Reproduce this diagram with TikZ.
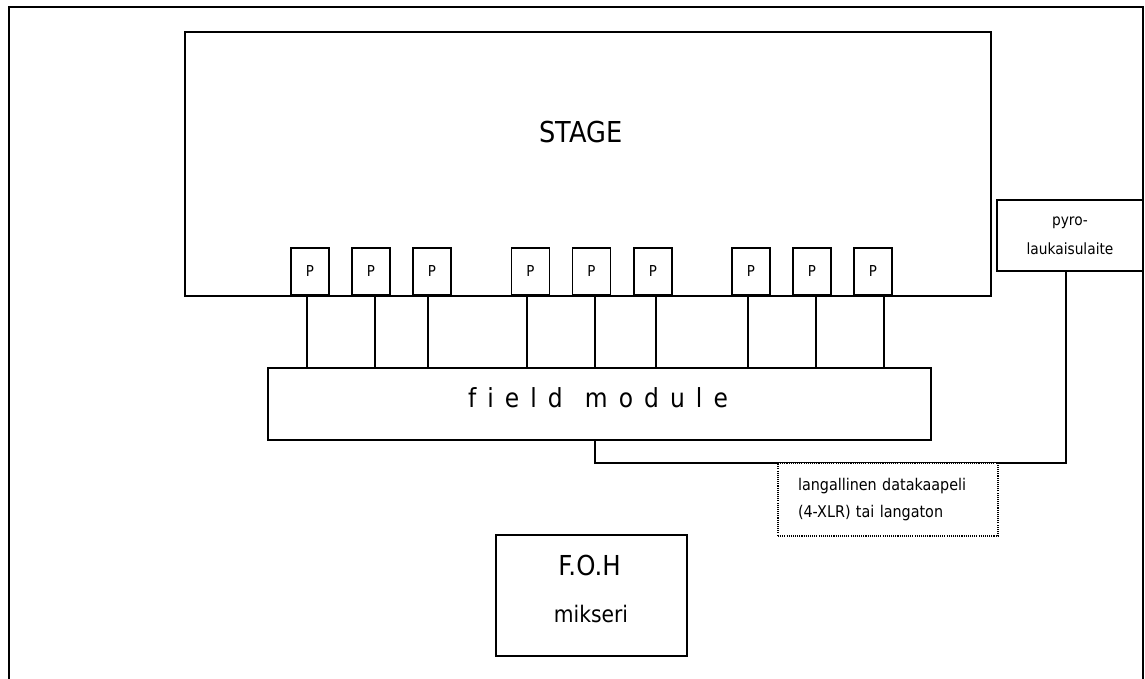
\documentclass[tikz,border=0pt]{standalone}
\usepackage{fontspec}
\setmainfont{DejaVu Sans}[FakeStretch=0.89]
\usetikzlibrary{positioning}

\begin{document}
\begin{tikzpicture}[
        x=0.75pt, y=-0.75pt,
        box/.style={draw, line width=0.9pt, fill=white, inner sep=0pt},
        pbox/.style={box, minimum width=28.5pt, minimum height=35.25pt, font=\fontsize{11.3pt}{13pt}\selectfont},
        note/.style={draw, line width=0.8pt, dash pattern=on 0.8pt off 0.8pt, fill=white, inner sep=0pt},
        wire/.style={line width=0.9pt}
    ]
        \useasboundingbox (0,0) rectangle (1145,678);

        % Hall frame (open at the bottom)
        \draw[wire] (9,690) -- (9,7) -- (1143,7) -- (1143,690);

        % Stage
        \node[box, minimum width=604.5pt, minimum height=198pt] (stage) at (588,164) {};
        \node[font=\fontsize{21.6pt}{26pt}\selectfont, anchor=base] (stagelabel) at (581,142) {STAGE};

        % Field module
        \node[box, minimum width=497.25pt, minimum height=54pt] (fm) at (599.5,404) {};
        \node[font={\fontsize{19.7pt}{24pt}\selectfont\spaceskip=8.3pt\relax}, anchor=base] (fmlabel) at (598,407) {f i e l d\ \ m o d u l e};

        % Pyro points and their wires
        \foreach \i/\px/\lx in {1/310/307, 2/371/375, 3/432/428, 4/530.5/527, 5/591.5/595, 6/653/656, 7/751/748, 8/812/816, 9/873/884} {
            \node[pbox] (p\i) at (\px,271.5) {P};
            \draw[wire] (p\i.south -| \lx,0) -- (fm.north -| \lx,0);
        }

        % Firing unit
        \node[box, minimum width=109.5pt, minimum height=53.25pt, align=center, font=\fontsize{11.6pt}{21.75pt}\selectfont] (pyro) at (1070,235.5) {pyro-\\laukaisulaite};

        % Data cable
        \coordinate (bend) at (595,463);
        \draw[wire] (fm.south -| bend) -- (bend) -| (pyro.south -| 1066,0);
        \node[note, minimum width=165pt, minimum height=54.75pt, text width=135pt, align=left, font=\fontsize{12.1pt}{20.25pt}\selectfont] (cable) at (888,499.5) {langallinen datakaapeli\\(4-XLR) tai langaton};

        % Front of house
        \node[box, minimum width=143.25pt, minimum height=90.75pt] (foh) at (591.5,595.5) {};
        \node[font=\fontsize{20.6pt}{24pt}\selectfont, anchor=base] (fohtitle) at (589.5,575) {F.O.H};
        \node[font=\fontsize{17.1pt}{20pt}\selectfont, anchor=base] (fohsub) at (591,622) {mikseri};
    \end{tikzpicture}
\end{document}
